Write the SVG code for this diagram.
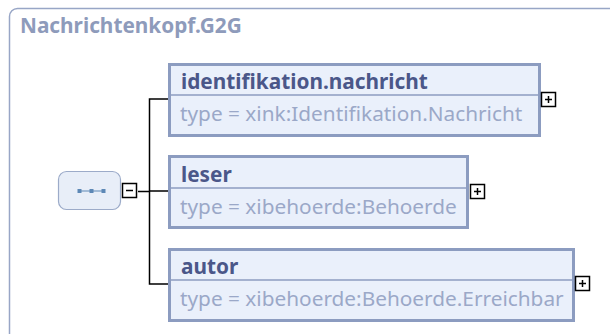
<svg xmlns="http://www.w3.org/2000/svg" width="610" height="334" viewBox="0 0 610 334">
<style>
.frame{fill:#fff;stroke:#98a6c6;stroke-width:1.5}
.title{font-family:"Noto Sans","DejaVu Sans",sans-serif;font-weight:bold;font-size:20.8px;fill:#8e9bbb}
.box{fill:#eaf0fb;stroke:#8c9cc0;stroke-width:3}
.div{stroke:#8c9cc0;stroke-width:1.5}
.name{font-family:"Noto Sans","DejaVu Sans",sans-serif;font-weight:bold;font-size:20.8px;fill:#4b5789}
.type{font-family:"Noto Sans","DejaVu Sans",sans-serif;font-size:20.8px;fill:#9ba8c8}
.pm{fill:#fff;stroke:#000;stroke-width:1.5}
.pml{stroke:#000;stroke-width:1.5}
.conn{fill:none;stroke:#000;stroke-width:1.5}
</style>
<rect class="frame" x="9.5" y="8.5" width="620" height="340" rx="8"/>
<text class="title" x="20" y="33">Nachrichtenkopf.G2G</text>
<g id="connectors">
<path class="conn" d="M138,191.5 H149.5 M168,99 H149.5 V284 H168 M149.5,191 H168"/>
</g>
<g id="sequence">
<rect x="58.5" y="171.5" width="62" height="38" rx="8" fill="#e8eef8" stroke="#9cabc9" stroke-width="1.2"/>
<path d="M80,191 H104" stroke="#5d88b6" stroke-width="1"/>
<rect x="77.5" y="189" width="4" height="4" fill="#5d88b6"/>
<rect x="89.5" y="189" width="4" height="4" fill="#5d88b6"/>
<rect x="101.5" y="189" width="4" height="4" fill="#5d88b6"/>
<rect class="pm" x="122.5" y="183.5" width="14" height="14"/>
<path class="pml" d="M126,190.5 H133"/>
</g>
<g id="identifikation.nachricht">
<rect class="box" x="169.5" y="64.5" width="370" height="71"/>
<line class="div" x1="171" y1="95" x2="538" y2="95"/>
<text class="name" x="181" y="89">identifikation.nachricht</text>
<text class="type" x="180" y="121">type = xink:Identifikation.Nachricht</text>
<rect class="pm" x="541.5" y="92.5" width="14" height="14"/>
<path class="pml" d="M545,99.5 H552 M548.5,96 V103"/>
</g>
<g id="leser">
<rect class="box" x="169.5" y="156.5" width="298" height="71"/>
<line class="div" x1="171" y1="188" x2="466" y2="188"/>
<text class="name" x="181" y="182">leser</text>
<text class="type" x="180" y="214">type = xibehoerde:Behoerde</text>
<rect class="pm" x="470.5" y="184.5" width="14" height="14"/>
<path class="pml" d="M474,191.5 H481 M477.5,188 V195"/>
</g>
<g id="autor">
<rect class="box" x="169.5" y="249.5" width="404" height="71"/>
<line class="div" x1="171" y1="280" x2="572" y2="280"/>
<text class="name" x="181" y="274">autor</text>
<text class="type" x="180" y="306">type = xibehoerde:Behoerde.Erreichbar</text>
<rect class="pm" x="575.5" y="276.5" width="14" height="14"/>
<path class="pml" d="M579,283.5 H586 M582.5,280 V287"/>
</g>
</svg>
